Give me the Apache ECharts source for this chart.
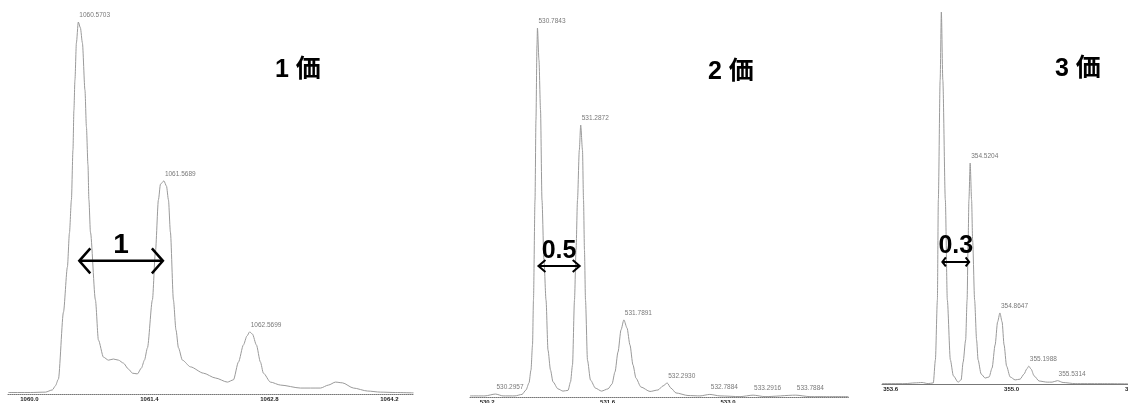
<!DOCTYPE html>
<html>
<head>
<meta charset="utf-8">
<script src="https://cdn.jsdelivr.net/npm/echarts@6/dist/echarts.min.js"></script>
<style>
  html, body { margin: 0; padding: 0; background: #fff; }
  #chart { width: 1128px; height: 403px; }
</style>
</head>
<body>
<div id="chart"></div>
<script>
// ---- Isotope envelopes of one ion at charge 1+, 2+ and 3+ (m/z vs relative intensity %) ----

// 1+ profile
const p1Mz = [1059.755, 1060.012, 1060.187, 1060.268, 1060.303, 1060.338, 1060.397, 1060.443, 1060.467, 1060.490,
  1060.508, 1060.519, 1060.531, 1060.548, 1060.5703, 1060.595, 1060.618, 1060.648, 1060.665, 1060.683,
  1060.694, 1060.712, 1060.770, 1060.805, 1060.864, 1060.922, 1060.980, 1061.039, 1061.097, 1061.155,
  1061.202, 1061.260, 1061.307, 1061.342, 1061.377, 1061.435, 1061.470, 1061.505, 1061.529, 1061.5689,
  1061.599, 1061.622, 1061.645, 1061.680, 1061.710, 1061.739, 1061.785, 1061.879, 1062.030, 1062.170,
  1062.310, 1062.380, 1062.439, 1062.497, 1062.538, 1062.5699, 1062.602, 1062.648, 1062.695, 1062.730,
  1062.812, 1062.929, 1063.162, 1063.396, 1063.489, 1063.571, 1063.652, 1063.781, 1063.944, 1064.096,
  1064.271, 1064.481];
const p1Int = [0.4, 0.4, 0.5, 1.1, 2.2, 4.0, 22.0, 34.1, 43.3, 52.2,
  65.6, 76.3, 84.4, 94.4, 100, 98.4, 94.4, 81.7, 71.8, 61.6,
  52.2, 43.5, 25.3, 14.5, 9.9, 9.1, 9.4, 9.1, 8.3, 6.7,
  5.6, 5.4, 7.0, 9.1, 12.4, 25.3, 38.2, 52.2, 56.4, 57.3,
  55.9, 52.2, 43.5, 25.3, 17.2, 12.4, 9.1, 7.3, 5.6, 4.3,
  3.2, 3.8, 8.6, 13.2, 15.6, 16.7, 16.1, 13.2, 8.6, 5.6,
  3.2, 2.4, 1.6, 1.6, 2.4, 3.2, 3.0, 1.6, 0.8, 0.5,
  0.4, 0.3];
const p1PeakMz = [1060.5703, 1061.5689, 1062.5699];
const p1PeakInt = [100, 57.3, 16.7];
const p1Ticks = [1060.0, 1061.4, 1062.8, 1064.2];

// 2+ profile
const p2Mz = [530.000, 530.174, 530.2957, 530.384, 530.523, 530.605, 530.651, 530.686, 530.709, 530.727,
  530.738, 530.756, 530.767, 530.779, 530.7843, 530.802, 530.820, 530.837, 530.860, 530.884,
  530.907, 530.936, 530.965, 531.023, 531.081, 531.140, 531.169, 531.192, 531.215, 531.233,
  531.250, 531.271, 531.2872, 531.308, 531.320, 531.331, 531.343, 531.366, 531.401, 531.459,
  531.529, 531.605, 531.651, 531.686, 531.721, 531.756, 531.7891, 531.826, 531.860, 531.895,
  531.930, 531.988, 532.093, 532.186, 532.244, 532.2930, 532.337, 532.395, 532.535, 532.674,
  532.7884, 532.907, 533.140, 533.2916, 533.430, 533.7884, 533.953, 534.4];
const p2Int = [0.3, 0.3, 0.8, 0.3, 0.3, 0.7, 1.9, 3.8, 7.3, 14.1,
  26.3, 53.4, 75.1, 95.4, 100, 91.3, 77.8, 53.4, 37.1, 26.3,
  12.7, 7.3, 4.1, 2.2, 1.6, 1.8, 4.1, 8.7, 26.3, 39.8,
  53.4, 66.9, 73.7, 66.9, 53.4, 39.8, 26.3, 10.0, 4.6, 2.4,
  1.6, 2.2, 3.5, 6.8, 12.2, 18.2, 20.9, 18.7, 14.1, 8.7,
  5.1, 2.7, 1.5, 1.9, 3.0, 3.8, 2.4, 1.1, 0.4, 0.3,
  0.7, 0.3, 0.1, 0.5, 0.1, 0.5, 0.1, 0.1];
const p2PeakMz = [530.2957, 530.7843, 531.2872, 531.7891, 532.2930, 532.7884, 533.2916, 533.7884];
const p2PeakInt = [0.8, 100, 73.7, 20.9, 3.8, 0.7, 0.5, 0.5];
const p2Ticks = [530.2, 531.6, 533.0];

// 3+ profile
const p3Mz = [353.5, 353.766, 353.883, 353.964, 354.034, 354.094, 354.118, 354.141, 354.152, 354.173,
  354.187, 354.204, 354.233, 354.256, 354.291, 354.326, 354.381, 354.416, 354.439, 354.468,
  354.485, 354.497, 354.506, 354.5204, 354.537, 354.549, 354.572, 354.595, 354.612, 354.647,
  354.694, 354.740, 354.774, 354.809, 354.838, 354.8647, 354.890, 354.913, 354.942, 354.983,
  355.041, 355.098, 355.145, 355.174, 355.1988, 355.226, 355.260, 355.318, 355.411, 355.469,
  355.5314, 355.596, 355.735, 356.024, 356.5];
const p3Int = [0.1, 0.1, 0.3, 0.4, 0.1, 0.3, 6.5, 22.6, 49.5, 81.7,
  100, 81.7, 49.5, 22.6, 6.5, 2.2, 0.5, 1.1, 5.9, 11.8,
  22.6, 38.7, 49.5, 59.4, 49.5, 38.7, 22.6, 11.8, 6.5, 2.7,
  1.6, 1.9, 4.3, 10.5, 16.7, 19.1, 16.7, 10.5, 4.8, 1.9,
  1.1, 1.3, 2.7, 4.0, 4.8, 4.0, 2.2, 0.8, 0.5, 0.5,
  0.9, 0.4, 0.1, 0.1, 0];
const p3PeakMz = [354.5204, 354.8647, 355.1988, 355.5314];
const p3PeakInt = [59.4, 19.1, 4.8, 0.9];
const p3Ticks = [353.6, 355.0, 356.4];

// Isotope spacing arrows: [from m/z, to m/z], height (%), text
const spacingFrom = [1060.5703, 530.7843, 354.187];
const spacingTo = [1061.5689, 531.2872, 354.5204];
const spacingLevel = [35.8, 35.5, 32.8];
const spacingText = ['1', '0.5', '0.3'];

// Panel captions (charge state)
const chargeText = ['1 価', '2 価', '3 価'];

// ---- layout ----
const layout = [
  { grid: { left: 8, top: 22, width: 405.4, height: 372 }, min: 1059.75, max: 1064.48, axisType: 'dotted',
    headDepth: 12, headHalf: 12.5, lineW: 2.5, numSize: 28, numGap: 2,
    title: { left: 275, top: 58 } },
  { grid: { left: 470, top: 28, width: 378.4, height: 369 }, min: 530.0, max: 534.4, axisType: 'dotted',
    headDepth: 8, headHalf: 6, lineW: 2, numSize: 25, numGap: 2,
    title: { left: 708, top: 60 } },
  { grid: { left: 882, top: 12, width: 259.2, height: 372 }, min: 353.5, max: 356.5, axisType: 'solid',
    headDepth: 4.5, headHalf: 4.5, lineW: 2, numSize: 25, numGap: 3,
    title: { left: 1055, top: 57 } }
];

const profiles = [[p1Mz, p1Int], [p2Mz, p2Int], [p3Mz, p3Int]];
const peaks = [[p1PeakMz, p1PeakInt], [p2PeakMz, p2PeakInt], [p3PeakMz, p3PeakInt]];
const ticks = [p1Ticks, p2Ticks, p3Ticks];

const sansFont = "'Liberation Sans', 'Noto Sans CJK JP', sans-serif";

const grids = [], xAxes = [], yAxes = [], series = [], titles = [];

layout.forEach((L, i) => {
  grids.push(Object.assign({ outerBoundsMode: 'none', containLabel: false }, L.grid));
  xAxes.push({
    type: 'value', gridIndex: i, min: L.min, max: L.max,
    axisLine: { show: true, lineStyle: { color: '#777', width: 1, type: L.axisType } },
    axisTick: { show: false },
    splitLine: { show: false },
    axisLabel: {
      customValues: ticks[i],
      formatter: v => Number(v).toFixed(1),
      fontSize: 6, fontWeight: 'bold', color: '#222', margin: 2, fontFamily: sansFont
    }
  });
  yAxes.push({ type: 'value', gridIndex: i, min: 0, max: 100, show: false });

  // spectrum profile
  const [mz, inten] = profiles[i];
  series.push({
    type: 'line', xAxisIndex: i, yAxisIndex: i,
    data: mz.map((m, k) => [m, inten[k]]),
    showSymbol: false, smooth: 0.25, smoothMonotone: 'x',
    lineStyle: { color: '#9a9a9a', width: 1 },
    silent: true, animation: false, z: 2
  });

  // m/z labels on the peak tops
  const [pm, pi] = peaks[i];
  series.push({
    type: 'scatter', xAxisIndex: i, yAxisIndex: i,
    data: pm.map((m, k) => [m, pi[k]]),
    symbolSize: 0, silent: true, animation: false, z: 3,
    label: {
      show: true, position: [1, -10],
      formatter: p => p.value[0].toFixed(4),
      fontSize: 6.5, color: '#555', fontFamily: sansFont
    }
  });

  // double-headed arrow spanning the isotope spacing
  series.push({
    type: 'custom', xAxisIndex: i, yAxisIndex: i,
    data: [[spacingFrom[i], spacingTo[i], spacingLevel[i]]],
    silent: true, animation: false, z: 5, clip: false,
    renderItem: (params, api) => {
      const a = api.coord([api.value(0), api.value(2)]);
      const b = api.coord([api.value(1), api.value(2)]);
      const d = L.headDepth, h = L.headHalf;
      const stroke = { stroke: '#000', lineWidth: L.lineW, fill: null, lineJoin: 'miter' };
      return {
        type: 'group',
        children: [
          { type: 'line', shape: { x1: a[0] + 1, y1: a[1], x2: b[0] - 1, y2: b[1] }, style: stroke },
          { type: 'polyline', shape: { points: [[a[0] + d, a[1] - h], [a[0] + 1, a[1]], [a[0] + d, a[1] + h]] }, style: stroke },
          { type: 'polyline', shape: { points: [[b[0] - d, b[1] - h], [b[0] - 1, b[1]], [b[0] - d, b[1] + h]] }, style: stroke },
          {
            type: 'text', x: (a[0] + b[0]) / 2, y: a[1] - L.numGap,
            style: {
              text: spacingText[i], fill: '#000',
              font: 'bold ' + L.numSize + 'px ' + sansFont,
              align: 'center', verticalAlign: 'bottom',
              textAlign: 'center', textVerticalAlign: 'bottom'
            }
          }
        ]
      };
    }
  });

  titles.push({
    text: chargeText[i], left: L.title.left, top: L.title.top, padding: 0,
    textStyle: { fontSize: 25, fontWeight: 'bold', color: '#000', fontFamily: sansFont }
  });
});

const chart = echarts.init(document.getElementById('chart'), null, { renderer: 'canvas' });
chart.setOption({
  backgroundColor: '#fff',
  animation: false,
  title: titles,
  grid: grids,
  xAxis: xAxes,
  yAxis: yAxes,
  series: series
});
</script>
</body>
</html>
